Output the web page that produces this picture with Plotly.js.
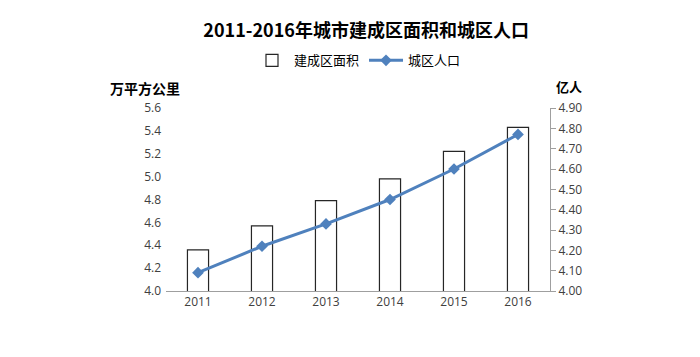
<!DOCTYPE html>
<html>
<head>
<meta charset="utf-8">
<script src="https://cdn.plot.ly/plotly-3.0.1.min.js"></script>
<style>html,body{margin:0;padding:0;background:#fff;}#chart{width:700px;height:357px;}</style>
</head>
<body>
<div id="chart"></div>
<script>
const years = ['2011', '2012', '2013', '2014', '2015', '2016'];
const builtArea = [4.36, 4.57, 4.79, 4.98, 5.22, 5.43];
const urbanPop = [4.09, 4.22, 4.33, 4.45, 4.60, 4.77];
const leftTicks = [4.0, 4.2, 4.4, 4.6, 4.8, 5.0, 5.2, 5.4, 5.6];
const rightTicks = [4.00, 4.10, 4.20, 4.30, 4.40, 4.50, 4.60, 4.70, 4.80, 4.90];

const cjk = '"Noto Sans CJK SC", "Noto Sans", sans-serif';
const num = '"Open Sans", "Noto Sans", sans-serif';

const data = [
  {
    type: 'bar', name: '建成区面积', x: years, y: builtArea, yaxis: 'y',
    marker: {color: '#ffffff', line: {color: '#262626', width: 1.2}},
    width: 0.33, hoverinfo: 'x+y'
  },
  {
    type: 'scatter', mode: 'lines+markers', name: '城区人口', x: years, y: urbanPop, yaxis: 'y2',
    line: {color: '#4F81BD', width: 3},
    marker: {symbol: 'diamond', size: 9, color: '#4F81BD'}
  }
];

const layout = {
  width: 700, height: 357,
  margin: {l: 166, r: 150, t: 108, b: 66},
  paper_bgcolor: '#fff', plot_bgcolor: '#fff',
  showlegend: true,
  title: {text: '<b>2011-2016年城市建成区面积和城区人口</b>', font: {family: cjk, size: 18, color: '#000'},
          x: 0.523, xanchor: 'center', y: 0.915, yanchor: 'middle'},
  legend: {orientation: 'h', x: 0.5, xanchor: 'center', y: 1.26, yanchor: 'middle',
           font: {family: cjk, size: 13, color: '#000'}, itemwidth: 34, traceorder: 'normal'},
  xaxis: {
    type: 'category', showgrid: false, showline: true, linecolor: '#9f9f9f', linewidth: 1,
    ticks: '', tickfont: {family: num, size: 12, color: '#404040'}, zeroline: false
  },
  yaxis: {
    range: [4.0, 5.6], tickvals: leftTicks, ticktext: leftTicks.map(v => v.toFixed(1)),
    showgrid: false, showline: false, zeroline: false, ticks: '',
    tickfont: {family: num, size: 12, color: '#404040'}, ticklabelstandoff: 4
  },
  yaxis2: {
    overlaying: 'y', side: 'right', range: [4.0, 4.9],
    tickvals: rightTicks, ticktext: rightTicks.map(v => v.toFixed(2)),
    showgrid: false, showline: true, linecolor: '#9f9f9f', linewidth: 1, zeroline: false,
    ticks: 'outside', ticklen: 5, tickcolor: '#9f9f9f',
    tickfont: {family: num, size: 12, color: '#404040'}
  },
  annotations: [
    {text: '<b>万平方公里</b>', xref: 'paper', yref: 'paper', x: -0.055, y: 1.11, xanchor: 'center', yanchor: 'middle',
     showarrow: false, font: {family: cjk, size: 14, color: '#000'}},
    {text: '<b>亿人</b>', xref: 'paper', yref: 'paper', x: 1.05, y: 1.115, xanchor: 'center', yanchor: 'middle',
     showarrow: false, font: {family: cjk, size: 13, color: '#000'}}
  ]
};

Plotly.newPlot('chart', data, layout, {displayModeBar: false, staticPlot: true});
</script>
</body>
</html>
